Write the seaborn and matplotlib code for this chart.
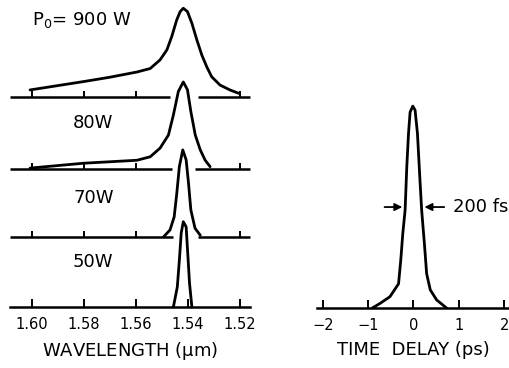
import numpy as np
import pandas as pd
import matplotlib
matplotlib.use("Agg")
import matplotlib.pyplot as plt
import seaborn as sns

# spectra (wavelength in um, normalised intensity)
wl_900 = [1.6006, 1.5801, 1.5700, 1.5596, 1.5545, 1.5507, 1.5481, 1.5462, 1.5443, 1.5430,
          1.5418, 1.5402, 1.5385, 1.5366, 1.5347, 1.5328, 1.5309, 1.5277, 1.5239, 1.5206]
in_900 = [0.084, 0.18, 0.23, 0.29, 0.33, 0.43, 0.544, 0.70, 0.89, 0.984,
          1.023, 0.984, 0.85, 0.66, 0.486, 0.35, 0.235, 0.14, 0.084, 0.046]

wl_80 = [1.6006, 1.5801, 1.5596, 1.5545, 1.5507, 1.5475, 1.5456, 1.5437, 1.5418, 1.5402,
         1.5389, 1.5372, 1.5353, 1.5334, 1.5315]
in_80 = [0.01, 0.066, 0.10, 0.14, 0.24, 0.39, 0.62, 0.89, 1.0, 0.91,
         0.66, 0.39, 0.22, 0.10, 0.026]

wl_70 = [1.5494, 1.5469, 1.5453, 1.5443, 1.5433, 1.5420, 1.5407, 1.5398, 1.5389, 1.5373,
         1.5353]
in_70 = [0.0, 0.08, 0.23, 0.50, 0.81, 1.0, 0.885, 0.62, 0.31, 0.10, 0.02]

wl_50 = [1.5456, 1.5441, 1.5433, 1.5426, 1.5418, 1.5407, 1.5401, 1.5394, 1.5385]
in_50 = [0.0, 0.23, 0.54, 0.85, 0.98, 0.92, 0.62, 0.27, 0.0]

# autocorrelation trace (delay in ps)
delay = [-0.91, -0.737, -0.52, -0.33, -0.28, -0.236, -0.185, -0.148, -0.11, -0.075,
         -0.016, 0.035, 0.087, 0.146, 0.18, 0.24, 0.29, 0.37, 0.51, 0.73]
autocorr = [0.0, 0.023, 0.056, 0.12, 0.24, 0.37, 0.485, 0.70, 0.865, 0.97,
            1.0, 0.98, 0.865, 0.62, 0.485, 0.32, 0.17, 0.09, 0.04, 0.0]

powers = [r"P$_0$= 900 W", "80W", "70W", "50W"]
wl_ticks = [1.60, 1.58, 1.56, 1.54, 1.52]
t_ticks = [-2, -1, 0, 1, 2]

sns.set_style("white")
plt.rcParams["font.family"] = ["DejaVu Sans"]
plt.rcParams["mathtext.default"] = "regular"
plt.rcParams["text.color"] = "black"
plt.rcParams["axes.labelcolor"] = "black"
plt.rcParams["xtick.color"] = "black"
plt.rcParams["lines.solid_joinstyle"] = "round"

fig = plt.figure(figsize=(5.1, 3.68), dpi=100)
W, H = 510, 368
lw = 2.0
blw = 1.8

# ---- left: spectra stacked ----
ax1 = fig.add_axes([10 / W, 61 / H, 240 / W, 302 / H])
offsets = [2.41, 1.586, 0.805, 0.0]
gaps = [(1.5469, 1.5361), (1.5461, 1.5373), (1.5456, 1.5360), None]
label_pos = [(1.5998, 3.30), (1.5841, 2.115), (1.5841, 1.253), (1.5841, 0.517)]
xmin, xmax = 1.6083, 1.5162
spectra = [(wl_900, in_900), (wl_80, in_80), (wl_70, in_70), (wl_50, in_50)]

for (wl, inten), off, gap, lab, pos in zip(spectra, offsets, gaps, powers, label_pos):
    sns.lineplot(x=wl, y=np.array(inten) + off, ax=ax1, color="black", lw=lw,
                 sort=False, estimator=None, clip_on=False)
    if gap is not None:
        ax1.plot([xmin, gap[0]], [off, off], color="black", lw=blw, clip_on=False,
                 solid_capstyle="butt")
        ax1.plot([gap[1], xmax], [off, off], color="black", lw=blw, clip_on=False,
                 solid_capstyle="butt")
        for t in wl_ticks:
            if not (gap[1] < t < gap[0]):
                ax1.vlines(t, off, off + 6 / 87, color="black", lw=1.4)
    ax1.text(pos[0], pos[1], lab, fontsize=13, ha="left", va="center")

ax1.set_xlim(xmin, xmax)
ax1.set_ylim(0, 3.47)
for s in ["top", "left", "right"]:
    ax1.spines[s].set_visible(False)
ax1.spines["bottom"].set_linewidth(blw)
ax1.spines["bottom"].set_color("black")
ax1.set_xticks(wl_ticks)
ax1.set_xticklabels([f"{t:.2f}" for t in wl_ticks], fontsize=10.5)
ax1.set_yticks([])
ax1.tick_params(axis="x", direction="in", length=6, width=1.4, pad=7, bottom=True)
ax1.set_xlabel(r"WAVELENGTH ($\mu$m)", fontsize=13, labelpad=6)

# ---- right: autocorrelation ----
ax2 = fig.add_axes([317 / W, 60 / H, 193 / W, 212 / H])
sns.lineplot(x=delay, y=autocorr, ax=ax2, color="black", lw=lw, sort=False,
             estimator=None)
ax2.set_xlim(-2.13, 2.13)
ax2.set_ylim(0, 1.05)
for s in ["top", "left", "right"]:
    ax2.spines[s].set_visible(False)
ax2.spines["bottom"].set_linewidth(blw)
ax2.spines["bottom"].set_color("black")
ax2.set_xticks(t_ticks)
ax2.set_xticklabels([str(t).replace("-", "\u2212") for t in t_ticks], fontsize=10.5)
ax2.set_yticks([])
ax2.tick_params(axis="x", direction="in", length=6, width=1.4, pad=7, bottom=True)
ax2.set_xlabel("TIME  DELAY (ps)", fontsize=13, labelpad=6)

ax2.annotate("", xy=(-0.185, 0.5), xytext=(-0.70, 0.5),
             arrowprops=dict(arrowstyle="-|>", color="black", lw=1.3, mutation_scale=11))
ax2.annotate("", xy=(0.18, 0.5), xytext=(0.74, 0.5),
             arrowprops=dict(arrowstyle="-|>", color="black", lw=1.3, mutation_scale=11))
ax2.text(0.87, 0.5, "200 fs", fontsize=13, ha="left", va="center")

fig.savefig("out.png", dpi=100)
